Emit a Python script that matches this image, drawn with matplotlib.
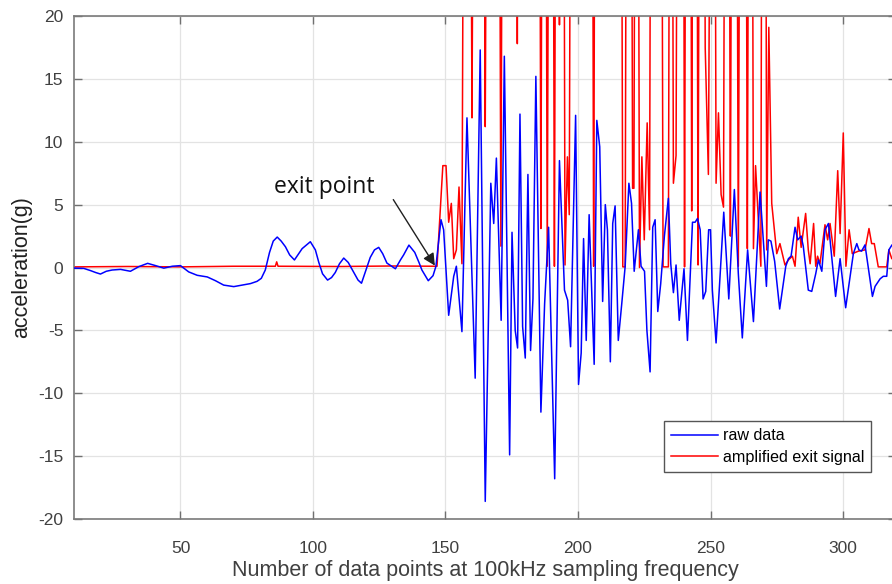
import matplotlib
matplotlib.use("Agg")
import matplotlib.pyplot as plt

plt.rcParams['axes.unicode_minus'] = False
plt.rcParams['font.family'] = ['Liberation Sans', 'DejaVu Sans']

# raw acceleration, vertices (index, g)
raw_x = [10.0, 13.5, 16.1, 18.0, 19.8, 22.0, 24.2, 27.4, 31.1, 34.3, 37.6, 40.6, 43.7,
         46.9, 50.0, 53.1, 56.3, 60.1, 63.2, 66.3, 70.1, 73.3, 76.4, 78.9, 80.5, 82.0,
         83.6, 85.0, 86.5, 88.0, 89.6, 91.2, 93.0, 95.9, 99.0, 100.9, 102.2, 103.6,
         105.5, 107.0, 108.4, 110.0, 111.6, 113.3, 115.4, 117.0, 118.3, 120.0, 121.6,
         123.2, 124.8, 126.3, 127.9, 131.1, 133.0, 134.2, 136.2, 138.4, 140.0, 141.1,
         143.5, 145.3, 146.4,
         148.3, 149.3, 151.2, 153.1, 154.1, 156.2, 158.1, 161.2, 163.1, 165.0, 167.1,
         168.2, 169.2, 171.0, 172.2, 174.2, 175.1, 176.3, 177.2, 178.1, 179.1, 180.1,
         181.1, 182.1, 183.0, 184.1, 186.0, 187.4, 188.9, 191.2, 193.0, 194.9, 196.1,
         197.2, 199.1, 200.2, 201.2, 202.1, 203.1, 204.2, 206.1, 207.1, 208.2, 209.3,
         210.3, 211.1, 212.2, 213.1, 214.0, 215.2, 216.5, 217.8, 219.2, 220.2, 221.2,
         222.8, 223.8, 225.1, 226.0, 227.2, 228.2, 229.1, 230.1, 231.2, 232.6, 234.1,
         235.0, 236.0, 237.0, 238.2, 240.0, 241.3, 243.2, 244.2, 245.1, 246.1, 247.2,
         248.2, 249.3, 250.0, 250.7, 252.1, 253.6, 255.0, 256.9, 259.0, 260.5, 262.0,
         264.0, 266.2, 268.7, 271.1, 271.8, 272.8, 274.2, 276.1, 278.4, 279.4, 280.4,
         281.9, 282.9, 284.2, 285.0, 286.9, 288.2, 289.7, 290.7, 292.0, 293.2, 294.5,
         297.2, 298.9, 301.0, 303.9, 305.2, 306.0, 307.0, 308.3, 311.1, 312.1, 314.0,
         315.2, 316.5, 317.3, 318.5, 320.0]
raw_y = [-0.05, -0.07, -0.25, -0.4, -0.52, -0.3, -0.2, -0.15, -0.3, 0.07, 0.33, 0.15, -0.05,
         0.1, 0.15, -0.35, -0.62, -0.75, -1.05, -1.4, -1.52, -1.4, -1.28, -1.1, -0.86, -0.2,
         1.2, 2.1, 2.42, 2.1, 1.65, 1.0, 0.6, 1.5, 2.05, 1.4, 0.4, -0.5,
         -1.0, -0.8, -0.4, 0.3, 0.75, 0.4, -0.4, -1.0, -1.25, -0.2, 0.8,
         1.4, 1.6, 1.1, 0.35, -0.1, 0.6, 1.0, 1.78, 1.2, 0.4, -0.2,
         -1.05, -0.65, 0.1,
         3.8, 3.0, -3.8, -0.7, 0.1, -5.1, 11.9, -8.8, 17.3, -18.6, 6.7,
         3.5, 8.7, -4.2, 16.8, -14.9, 2.8, -5.0, -6.4, 12.2, -4.7, -7.2,
         7.4, -6.6, -2.5, 15.2, -11.5, -2.9, 3.2, -16.8, 8.5, -1.8, -2.6,
         -6.3, 12.1, -9.3, -6.8, 2.3, -5.8, 4.2, -7.7, 11.7, 9.6, -2.7,
         5.0, 3.0, -7.5, 3.5, 4.9, -5.8, -2.9, 0.1, 6.7, 5.1, -0.3,
         3.0, 0.1, -0.3, -5.0, -8.3, 3.2, 3.8, -3.5, -1.3, 2.5, 5.5,
         0.3, -2.0, 0.2, -4.2, -0.1, -5.8, 3.6, 3.6, 3.9, 3.0, -2.5,
         -1.9, 3.0, 3.0, -1.8, -6.0, -0.7, 4.4, -2.5, 6.2, -0.5, -5.6,
         1.4, -4.3, 6.0, -1.5, 2.2, 2.1, 0.5, -3.3, 0.1, 0.7, 0.9,
         3.2, 2.2, 2.5, 1.7, -1.8, -1.9, -0.5, 0.6, -0.3, 3.0, 3.5,
         -2.3, 0.7, -3.2, 1.1, 1.9, 1.4, 1.3, 1.8, -2.3, -1.5, -0.9,
         -0.7, -0.7, 1.4, 1.8, 1.6]

# amplified exit signal; 60 stands for values far above the 20 g axis limit
amp_x = [10.0, 30.0, 50.0, 70.0, 85.8, 86.3, 86.8, 110.0, 130.0, 146.8,
         149.0, 150.2, 151.2, 152.2, 153.1, 154.1, 155.1, 156.2, 157.2, 159.0,
         160.0, 161.0, 164.0, 165.0, 166.0, 170.0, 170.9, 171.8, 176.4, 177.1,
         177.8, 185.2, 186.0, 186.8, 187.6, 188.4, 189.3, 190.3, 191.1, 191.9,
         192.6, 193.0, 193.4, 194.4, 195.1, 196.0, 196.7, 197.5, 205.2, 205.9,
         206.7, 216.1, 216.9, 217.8, 218.5, 219.9, 220.6, 221.1, 221.8, 222.5,
         223.2, 224.1, 225.0, 226.1, 227.0, 227.7, 231.3, 232.1, 234.1, 234.8,
         235.3, 236.0, 237.0, 237.8, 239.6, 240.2, 240.9, 242.3, 242.9, 243.6,
         244.6, 245.3, 246.1, 247.3, 248.0, 249.2, 250.5, 251.4, 252.1, 253.0,
         254.0, 254.9, 255.7, 256.8, 257.5, 258.3, 259.6, 260.5, 261.4, 263.1,
         263.9, 264.7, 265.5, 266.2, 267.0, 268.0, 269.0, 269.6, 270.6, 271.2,
         272.0, 273.1, 275.0, 276.2, 277.1, 278.1, 279.4, 280.9, 281.9, 283.1,
         284.2, 285.9, 286.9, 287.6, 288.9, 289.7, 290.4, 291.3, 293.2, 294.2,
         295.1, 296.7, 298.0, 298.9, 300.1, 301.1, 302.3, 303.5, 305.8, 308.3,
         309.8, 310.8, 311.8, 313.3, 316.5, 317.3, 318.4, 320.0]
amp_y = [0.05, 0.08, 0.05, 0.1, 0.1, 0.45, 0.1, 0.08, 0.12, 0.1,
         8.1, 8.1, 3.6, 5.1, 0.7, 1.4, 6.4, 0.3, 60, 60,
         11.9, 60, 60, 11.2, 60, 60, 1.7, 60, 60, 17.8,
         60, 60, 3.1, 60, 60, 0.1, 60, 60, 0.1, 60,
         60, 19.3, 60, 60, 0.2, 8.8, 4.2, 60, 60, 0.1,
         60, 60, 0.05, 0.05, 60, 60, 6.3, 6.3, 60, 60,
         0.0, 8.8, 2.2, 11.5, 3.0, 60, 60, 0.05, 0.05, 60,
         60, 6.7, 8.9, 60, 60, 0.05, 60, 60, 4.5, 60,
         60, 0.2, 60, 60, 17.5, 7.4, 60, 60, 6.7, 12.3,
         5.8, 4.8, 60, 60, 2.5, 60, 60, 0.1, 60, 60,
         1.5, 60, 60, 1.5, 8.1, 4.0, 0.1, 60, 60, 1.4,
         19.1, 5.1, 1.1, 1.9, 1.1, 0.2, 0.6, 0.9, 0.1, 4.0,
         1.6, 4.3, 1.4, 0.3, 3.5, 0.1, 0.9, 0.3, 3.4, 2.2,
         3.5, 0.9, 7.7, 2.7, 10.7, 0.1, 3.0, 1.1, 1.3, 1.4,
         3.1, 1.9, 1.9, 0.05, 0.05, 1.4, 0.7, 0.8]

xticks = [50, 100, 150, 200, 250, 300]
yticks = [-20, -15, -10, -5, 0, 5, 10, 15, 20]

fig = plt.figure(figsize=(8.92, 5.84), dpi=100)
ax = fig.add_axes([0.0835, 0.1113, 0.921, 0.8613])

ax.plot(raw_x, raw_y, color='#0000ff', lw=1.1, label='raw data', zorder=3)
ax.plot(amp_x, amp_y, color='#ff0000', lw=1.1, label='amplified exit signal', zorder=2)

ax.set_xlim(10, 320)
ax.set_ylim(-20, 20)
ax.set_xticks(xticks)
ax.set_yticks(yticks)
ax.grid(True, color='#e3e3e3', lw=0.9, zorder=0)
ax.set_axisbelow(True)

ax.tick_params(direction='in', length=6, width=1, colors='#707070',
               labelcolor='#404040', labelsize=12.5, top=True, right=True, pad=8)
ax.tick_params(axis='x', pad=16)
for s in ax.spines.values():
    s.set_color('#7a7a7a')
    s.set_linewidth(1.2)

ax.set_xlabel('Number of data points at 100kHz sampling frequency', fontsize=15.5,
              color='#404040', labelpad=3)
ax.set_ylabel('acceleration(g)', fontsize=15.5, color='#202020', labelpad=4)

ax.text(104.3, 6.4, 'exit point', ha='center', va='center', fontsize=16.5,
        family=['Open Sans', 'DejaVu Sans'], color='#111111')
ax.annotate('', xy=(146.0, 0.15), xytext=(130.3, 5.4),
            arrowprops=dict(arrowstyle='-|>', color='#202020', lw=1.0,
                            mutation_scale=18, shrinkA=0, shrinkB=0))

leg = ax.legend(loc='lower left', bbox_to_anchor=(0.718, 0.094), fontsize=11.6,
                fancybox=False, framealpha=1, edgecolor='#555555',
                handlelength=2.9, borderpad=0.42, labelspacing=0.42, handletextpad=0.3,
                borderaxespad=0)
leg.get_frame().set_linewidth(1.0)

fig.savefig('out.png', dpi=100)
